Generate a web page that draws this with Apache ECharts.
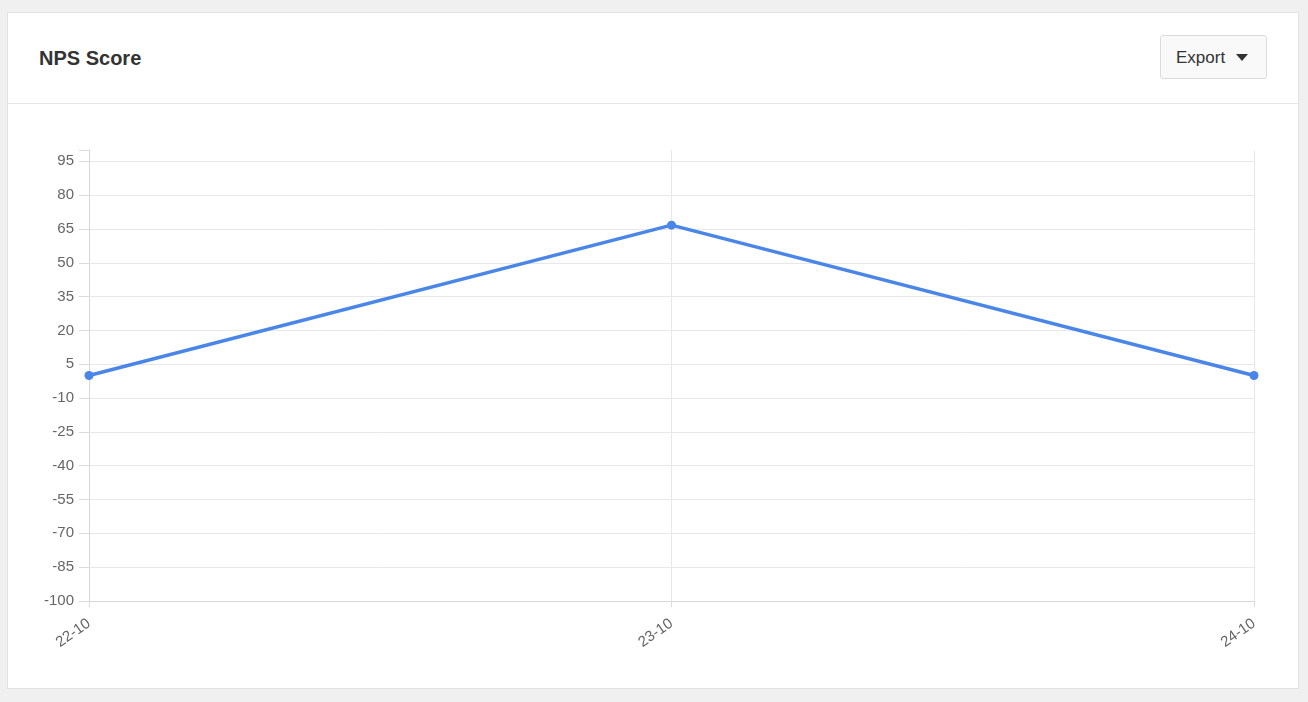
<!DOCTYPE html>
<html>
<head>
<meta charset="utf-8">
<script src="https://cdn.jsdelivr.net/npm/echarts@6/dist/echarts.min.js"></script>
<style>
  html, body { margin: 0; padding: 0; background: #f0f0f0; width: 1308px; height: 702px; overflow: hidden; font-family: "Liberation Sans", Arial, sans-serif; }
  #card { position: absolute; left: 7px; top: 12px; width: 1290px; height: 675px; background: #fff; border: 1px solid #e2e2e2; }
  #header { position: absolute; left: 0; top: 0; width: 1290px; height: 90px; border-bottom: 1px solid #e6e6e6; }
  #title { position: absolute; left: 31px; top: 34px; font-size: 20px; font-weight: bold; color: #333; }
  #export { position: absolute; left: 1152px; top: 22px; width: 107px; height: 44px; background: #f9f9f9; border: 1px solid #dcdcdc; border-radius: 3px; box-sizing: border-box; font-size: 17px; color: #333; line-height: 43px; padding-left: 15px; }
  #export .caret { display: inline-block; width: 0; height: 0; border-left: 6px solid transparent; border-right: 6px solid transparent; border-top: 7px solid #333; margin-left: 11px; vertical-align: 2px; }
  #chart { position: absolute; left: 0; top: 0; width: 1308px; height: 702px; }
</style>
</head>
<body>
<div id="card">
  <div id="header">
    <div id="title">NPS Score</div>
    <div id="export">Export<span class="caret"></span></div>
  </div>
</div>
<div id="chart"></div>
<script>
const categories = ['22-10', '23-10', '24-10'];
const npsValues = [0, 66.67, 0];
const yTicks = [-100, -85, -70, -55, -40, -25, -10, 5, 20, 35, 50, 65, 80, 95];
const yMin = -100;
const yMax = 100;
const yStep = 15;

const chart = echarts.init(document.getElementById('chart'), null, { renderer: 'canvas' });
chart.setOption({
  animation: false,
  backgroundColor: 'transparent',
  grid: { left: 89, top: 150, width: 1165, height: 451, containLabel: false },
  xAxis: {
    type: 'category',
    data: categories,
    boundaryGap: false,
    axisLine: { show: true, onZero: false, lineStyle: { color: '#d6d6d6', width: 1 } },
    axisTick: { show: true, length: 6, lineStyle: { color: '#dcdcdc' } },
    splitLine: { show: true, lineStyle: { color: '#e8e8e8', width: 1 } },
    axisLabel: { rotate: 35, color: '#666', fontSize: 15, margin: 21, fontFamily: 'Liberation Sans' }
  },
  yAxis: [{
    type: 'value',
    position: 'left',
    min: yMin,
    max: yMax,
    axisLine: { show: true, onZero: false, lineStyle: { color: '#d6d6d6', width: 1 } },
    axisTick: { show: true, inside: false, length: 10, customValues: yTicks, lineStyle: { color: '#dcdcdc', width: 1 } },
    splitLine: { show: true, lineStyle: { color: '#e8e8e8', width: 1 } },
    axisLabel: { customValues: yTicks, color: '#666', fontSize: 15, margin: 15, fontFamily: 'Liberation Sans' }
  }, {
    // tick-mark helper axis: same span as the main axis, ticks every 15 from the bottom
    type: 'value',
    position: 'left',
    offset: 0,
    min: 0,
    max: yMax - yMin,
    interval: yStep,
    axisLine: { show: false },
    axisTick: { show: true, inside: false, length: 10, lineStyle: { color: '#dcdcdc', width: 1 } },
    splitLine: { show: false },
    axisLabel: { show: false }
  }],
  series: [{
    type: 'line',
    yAxisIndex: 0,
    data: npsValues,
    symbol: 'circle',
    symbolSize: 9,
    lineStyle: { color: '#4a86e8', width: 3.5 },
    itemStyle: { color: '#4a86e8' }
  }]
});
</script>
</body>
</html>
